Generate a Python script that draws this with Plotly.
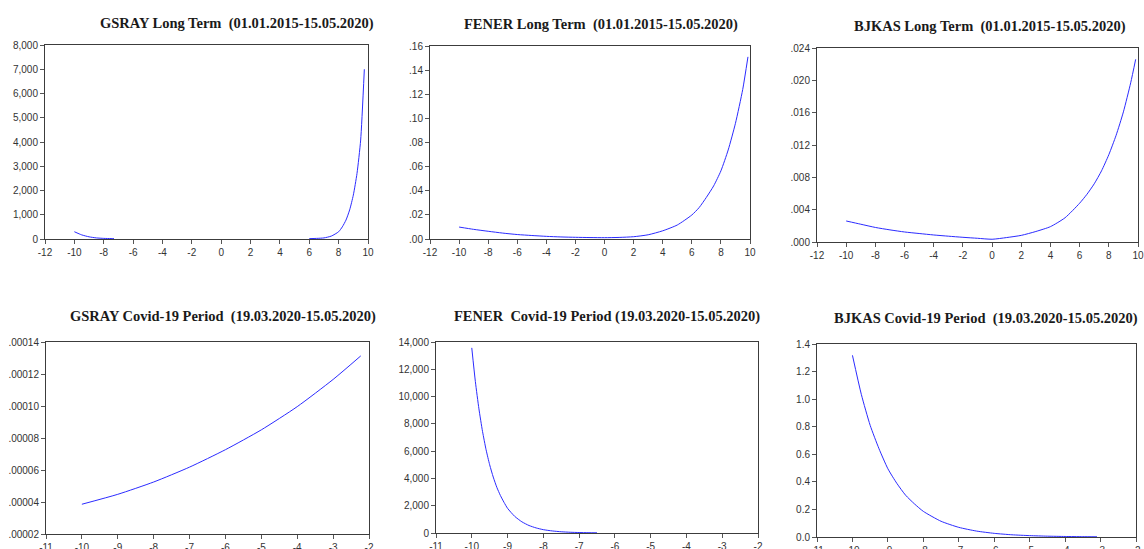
import plotly.graph_objects as go

W, H = 1144, 549

# ---------------- data ----------------
# GSRAY long term: the flat middle part lies on the axis and is not visible -> gap (None)
gsray_lt_x = [-10, -9.5, -9, -8.5, -8, -7.5, -7.3, None, 6, 6.5, 7, 7.5, 8, 8.25, 8.5, 8.75, 9, 9.25, 9.5, 9.75]
gsray_lt_y = [300, 170, 90, 45, 25, 18, 15, None, 15, 25, 45, 120, 300, 500, 780, 1200, 1810, 2700, 4080, 7000]

fener_lt_x = [-10, -9, -8, -7, -6, -5, -4, -3, -2, -1, 0, 1, 2, 3, 4, 5, 6, 6.5, 7, 7.5, 8, 8.5, 9, 9.5, 9.86]
fener_lt_y = [.0099, .0080, .0064, .0049, .0037, .0029, .0022, .0017, .0014, .0012, .0011, .0013, .0019, .0035,
              .0068, .0116, .0199, .026, .0345, .044, .0565, .0738, .0959, .124, .151]

bjkas_lt_x = [-10, -9, -8, -7, -6, -5, -4, -3, -2, -1, 0, 1, 2, 3, 4, 5, 6, 6.5, 7, 7.5, 8, 8.5, 9, 9.5, 9.84]
bjkas_lt_y = [.0026, .0022, .0018, .0015, .00124, .00105, .00087, .00072, .00058, .00046, .00034, .00055, .00082,
              .0013, .0019, .0030, .0048, .0059, .0072, .0088, .0108, .0132, .0161, .0197, .0226]

gsray_cv_x = [-10, -9, -8, -7, -6, -5, -4, -3, -2.23]
gsray_cv_y = [3.86e-5, 4.48e-5, 5.25e-5, 6.18e-5, 7.27e-5, 8.51e-5, 9.96e-5, 1.166e-4, 1.313e-4]

fener_cv_x = [-10, -9.9, -9.8, -9.7, -9.6, -9.5, -9.4, -9.3, -9.2, -9.1, -9, -8.8, -8.6, -8.4, -8.2, -8,
              -7.75, -7.5, -7.25, -7, -6.75, -6.5]
fener_cv_y = [13570, 11100, 9100, 7450, 6100, 5000, 4100, 3350, 2750, 2250, 1810, 1220, 820, 550, 370, 245,
              150, 90, 55, 35, 22, 14]

bjkas_cv_x = [-10, -9.75, -9.5, -9.25, -9, -8.75, -8.5, -8.25, -8, -7.5, -7, -6.5, -6, -5.5, -5, -4.5, -4, -3.5, -3.1]
bjkas_cv_y = [1.318, 1.035, 0.81, 0.64, 0.495, 0.39, 0.303, 0.24, 0.186, 0.114, 0.070, 0.043, 0.0265, 0.016,
              0.010, 0.006, 0.0038, 0.0024, 0.0016]

titles = [
    "GSRAY Long Term  (01.01.2015-15.05.2020)",
    "FENER Long Term  (01.01.2015-15.05.2020)",
    "BJKAS Long Term  (01.01.2015-15.05.2020)",
    "GSRAY Covid-19 Period  (19.03.2020-15.05.2020)",
    "FENER  Covid-19 Period (19.03.2020-15.05.2020)",
    "BJKAS Covid-19 Period  (19.03.2020-15.05.2020)",
]

lt_xticks = [-12, -10, -8, -6, -4, -2, 0, 2, 4, 6, 8, 10]
cv_xticks = [-11, -10, -9, -8, -7, -6, -5, -4, -3, -2]

y_ticks = [
    [0, 1000, 2000, 3000, 4000, 5000, 6000, 7000, 8000],
    [0, .02, .04, .06, .08, .10, .12, .14, .16],
    [0, .004, .008, .012, .016, .020, .024],
    [.00002, .00004, .00006, .00008, .00010, .00012, .00014],
    [0, 2000, 4000, 6000, 8000, 10000, 12000, 14000],
    [0, .2, .4, .6, .8, 1.0, 1.2, 1.4],
]
y_labels = [
    ["0", "1,000", "2,000", "3,000", "4,000", "5,000", "6,000", "7,000", "8,000"],
    [".00", ".02", ".04", ".06", ".08", ".10", ".12", ".14", ".16"],
    [".000", ".004", ".008", ".012", ".016", ".020", ".024"],
    [".00002", ".00004", ".00006", ".00008", ".00010", ".00012", ".00014"],
    ["0", "2,000", "4,000", "6,000", "8,000", "10,000", "12,000", "14,000"],
    ["0.0", "0.2", "0.4", "0.6", "0.8", "1.0", "1.2", "1.4"],
]
y_ranges = [[0, 8000], [0, 0.16], [0, 0.024], [0.00002, 0.00014], [0, 14000], [0, 1.4]]
x_ranges = [[-12, 10]] * 3 + [[-11, -2]] * 3

series = [
    (gsray_lt_x, gsray_lt_y), (fener_lt_x, fener_lt_y), (bjkas_lt_x, bjkas_lt_y),
    (gsray_cv_x, gsray_cv_y), (fener_cv_x, fener_cv_y), (bjkas_cv_x, bjkas_cv_y),
]

# ---------------- layout (pixel boxes of each plot area) ----------------
boxes = [  # left, right, top, bottom in px
    (45, 368, 45, 239),
    (430, 750, 46, 239),
    (817, 1138, 48, 242),
    (46, 369, 342, 534),
    (436, 758, 342, 533),
    (817, 1136, 344, 537),
]
title_pos = [(237, 23), (601, 25), (990, 26), (223, 316), (607, 316), (986, 318)]

fig = go.Figure()
layout = dict(
    template="none",
    width=W, height=H, margin=dict(l=0, r=0, t=0, b=0, autoexpand=False),
    paper_bgcolor="white", plot_bgcolor="white", showlegend=False,
    font=dict(family="Liberation Sans, Arial, sans-serif", size=10, color="#333333"),
)
annotations = []
axis_color = "#3c3c3c"

for i, ((xs, ys), (l, r, t, b)) in enumerate(zip(series, boxes)):
    n = i + 1
    xa = "x" if n == 1 else f"x{n}"
    ya = "y" if n == 1 else f"y{n}"
    fig.add_trace(go.Scatter(
        x=xs, y=ys, xaxis=xa, yaxis=ya, mode="lines", connectgaps=False,
        line=dict(color="#2b2bff", width=1, shape="spline", smoothing=0.6),
        hoverinfo="skip",
    ))
    xt = lt_xticks if i < 3 else cv_xticks
    layout["xaxis" if n == 1 else f"xaxis{n}"] = dict(
        domain=[l / W, r / W], anchor=ya, range=x_ranges[i], automargin=False,
        tickvals=xt, ticktext=[str(v) for v in xt],
        showgrid=False, zeroline=False, showline=True, mirror=True,
        linecolor=axis_color, linewidth=1, ticks="outside", ticklen=4,
        tickcolor="#555555", tickfont=dict(size=10, color="#333333"),
    )
    layout["yaxis" if n == 1 else f"yaxis{n}"] = dict(
        domain=[1 - b / H, 1 - t / H], anchor=xa, range=y_ranges[i], automargin=False,
        tickvals=y_ticks[i], ticktext=y_labels[i],
        showgrid=False, zeroline=False, showline=True, mirror=True,
        linecolor=axis_color, linewidth=1, ticks="outside", ticklen=4,
        tickcolor="#555555", tickfont=dict(size=10, color="#333333"),
    )
    cx, cy = title_pos[i]
    annotations.append(dict(
        text=f"<b>{titles[i]}</b>", xref="paper", yref="paper",
        x=cx / W, y=1 - cy / H, xanchor="center", yanchor="middle", showarrow=False,
        font=dict(family="Liberation Serif, Times New Roman, serif", size=14.5, color="#1a1a1a"),
    ))

layout["annotations"] = annotations
fig.update_layout(**layout)
fig.write_html("out.html")
